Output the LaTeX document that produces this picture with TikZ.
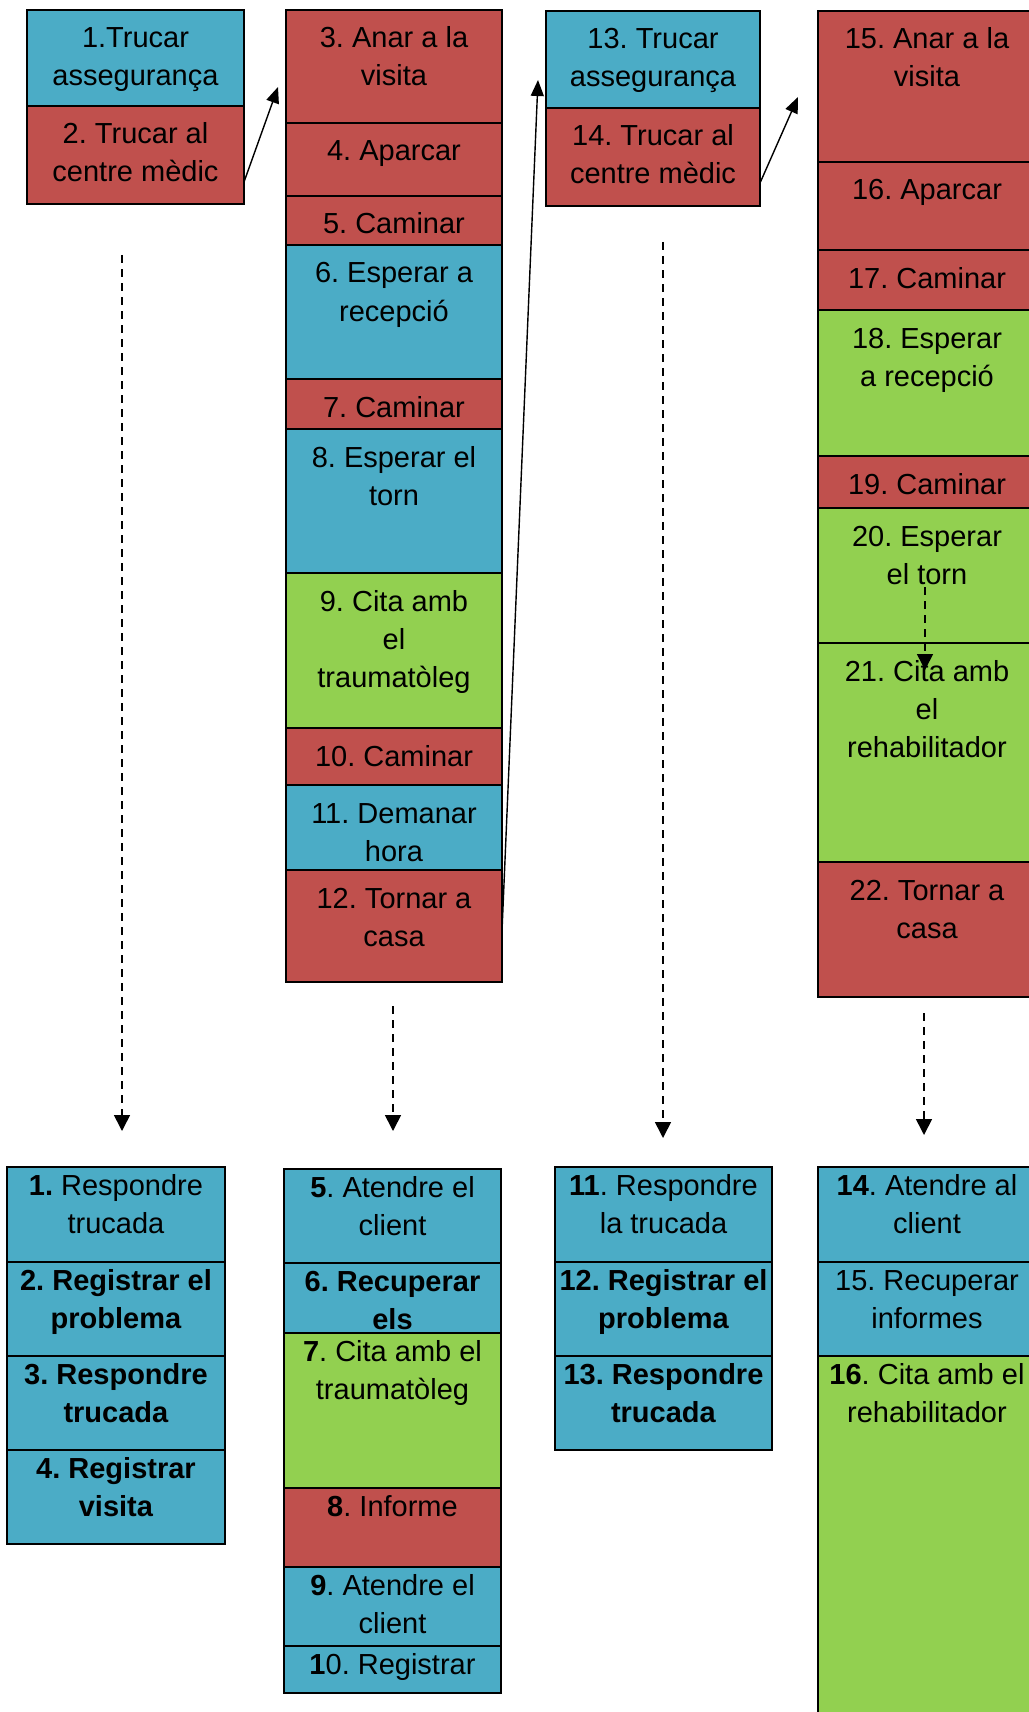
\documentclass[tikz,border=0pt]{standalone}
\usepackage{fontspec}
\setmainfont{Liberation Sans}
\frenchspacing
\usetikzlibrary{arrows.meta}
\definecolor{blau}{HTML}{4BACC6}
\definecolor{vermell}{HTML}{C0504D}
\definecolor{verd}{HTML}{92D050}
\tikzset{
  cel/.style={draw=black, line width=1.6pt, rectangle, inner sep=0pt, outer sep=0pt, anchor=north west},
  txt/.style={font=\fontsize{29}{38}\selectfont, anchor=base, inner sep=0pt},
  fle/.style={-{Triangle[length=16pt,width=13pt]}, line width=1.4pt},
  discont/.style={-{Triangle[length=16pt,width=16pt]}, line width=1.6pt, dash pattern=on 8pt off 6pt}
}
% nom, esquerra, dalt, dreta, baix, color, marge, text
\newcommand{\cel}[8]{%
  \pgfmathsetmacro\amp{#4-#2}\pgfmathsetmacro\alt{#5-#3}%
  \node[cel, fill=#6, minimum width=\amp pt, minimum height=\alt pt] (#1) at (#2,#3) {};
  \node[txt] (#1t) at ([yshift=-#7pt]#1.north) {\parbox[t]{\amp pt}{\centering #8}};
}

\begin{document}
\begin{tikzpicture}[x=1pt, y=-1pt]
     \useasboundingbox (0,0) rectangle (1028,1712);
     \cel{a1}{27}{10}{244}{106}{blau}{38}{1.Trucar\\assegurança}
     \cel{a2}{27}{106}{244}{204}{vermell}{38}{2. Trucar al\\centre mèdic}
     \cel{a3}{286}{10}{502}{123}{vermell}{38}{3. Anar a la\\visita}
     \cel{a4}{286}{123}{502}{196}{vermell}{38}{4. Aparcar}
     \cel{a5}{286}{196}{502}{245}{vermell}{38}{5. Caminar}
     \cel{a6}{286}{245}{502}{379}{blau}{38}{6. Esperar a\\recepció}
     \cel{a7}{286}{379}{502}{429}{vermell}{38}{7. Caminar}
     \cel{a8}{286}{429}{502}{573}{blau}{38}{8. Esperar el\\torn}
     \cel{a9}{286}{573}{502}{728}{verd}{38}{9. Cita amb\\el\\traumatòleg}
     \cel{a10}{286}{728}{502}{785}{vermell}{38}{10. Caminar\hspace{16pt}}
     \cel{a11}{286}{785}{502}{870}{blau}{38}{11. Demanar\\hora}
     \cel{a12}{286}{870}{502}{982}{vermell}{38}{12. Tornar a\\casa}
     \cel{a13}{546}{11}{760}{108}{blau}{38}{13. Trucar\\assegurança}
     \cel{a14}{546}{108}{760}{206}{vermell}{38}{14. Trucar al\\centre mèdic}
     \cel{a15}{818}{11}{1036}{162}{vermell}{38}{15. Anar a la\\visita}
     \cel{a16}{818}{162}{1036}{250}{vermell}{38}{16. Aparcar}
     \cel{a17}{818}{250}{1036}{310}{vermell}{38}{17. Caminar}
     \cel{a18}{818}{310}{1036}{456}{verd}{38}{18. Esperar\\a recepció}
     \cel{a19}{818}{456}{1036}{508}{vermell}{38}{19. Caminar}
     \cel{a20}{818}{508}{1036}{643}{verd}{38}{20. Esperar\\el torn}
     \cel{a21}{818}{643}{1036}{862}{verd}{38}{21. Cita amb\\el\\rehabilitador}
     \cel{a22}{818}{862}{1036}{997}{vermell}{38}{22. Tornar a\\casa}

     \cel{b1}{7}{1167}{225}{1262}{blau}{28}{\textbf{1.} Respondre\\trucada}
     \cel{b2}{7}{1262}{225}{1356}{blau}{28}{\textbf{2. Registrar el}\\\textbf{problema}}
     \cel{b3}{7}{1356}{225}{1450}{blau}{28}{\textbf{3. Respondre}\\\textbf{trucada}}
     \cel{b4}{7}{1450}{225}{1544}{blau}{28}{\textbf{4. Registrar}\\\textbf{visita}}
     \cel{b5}{284}{1169}{501}{1263}{blau}{28}{\textbf{5}. Atendre el\\client}
     \cel{b6}{284}{1263}{501}{1333}{blau}{28}{\textbf{6. Recuperar}\\\textbf{els}}
     \cel{b7}{284}{1333}{501}{1488}{verd}{28}{\textbf{7}. Cita amb el\\traumatòleg}
     \cel{b8}{284}{1488}{501}{1567}{vermell}{28}{\textbf{8}. Informe}
     \cel{b9}{284}{1567}{501}{1646}{blau}{28}{\textbf{9}. Atendre el\\client}
     \cel{b10}{284}{1646}{501}{1693}{blau}{28}{\textbf{1}0. Registrar}
     \cel{b11}{555}{1167}{772}{1262}{blau}{28}{\textbf{11}. Respondre\\la trucada}
     \cel{b12}{555}{1262}{772}{1356}{blau}{28}{\textbf{12. Registrar el}\\\textbf{problema}}
     \cel{b13}{555}{1356}{772}{1450}{blau}{28}{\textbf{13. Respondre}\\\textbf{trucada}}
     \cel{b14}{818}{1167}{1036}{1262}{blau}{28}{\textbf{14}. Atendre al\\client}
     \cel{b15}{818}{1262}{1036}{1356}{blau}{28}{15. Recuperar\\informes}
     \cel{b16}{818}{1356}{1036}{1722}{verd}{28}{\textbf{16}. Cita amb el\\rehabilitador}

     \coordinate (t3) at (278,87);
     \coordinate (t13) at (538,80);
     \coordinate (t15) at (798,97);
     \draw[fle] ([yshift=22pt]a2.south east) -- (t3);
     \draw[fle] ([yshift=51pt]a12.south east) -- (t13);
     \draw[fle] ([yshift=23pt]a14.south east) -- (t15);

     \coordinate (d1) at (122,255);   \coordinate (e1) at (122,1131);
     \coordinate (d2) at (393,1006);  \coordinate (e2) at (393,1131);
     \coordinate (d3) at (663,242);   \coordinate (e3) at (663,1138);
     \coordinate (d4) at (924,1013);  \coordinate (e4) at (924,1135);
     \coordinate (d5) at (925,587);   \coordinate (e5) at (925,670);
     \foreach \i in {1,...,5}
        \draw[discont] (d\i) -- (e\i);
\end{tikzpicture}
\end{document}
